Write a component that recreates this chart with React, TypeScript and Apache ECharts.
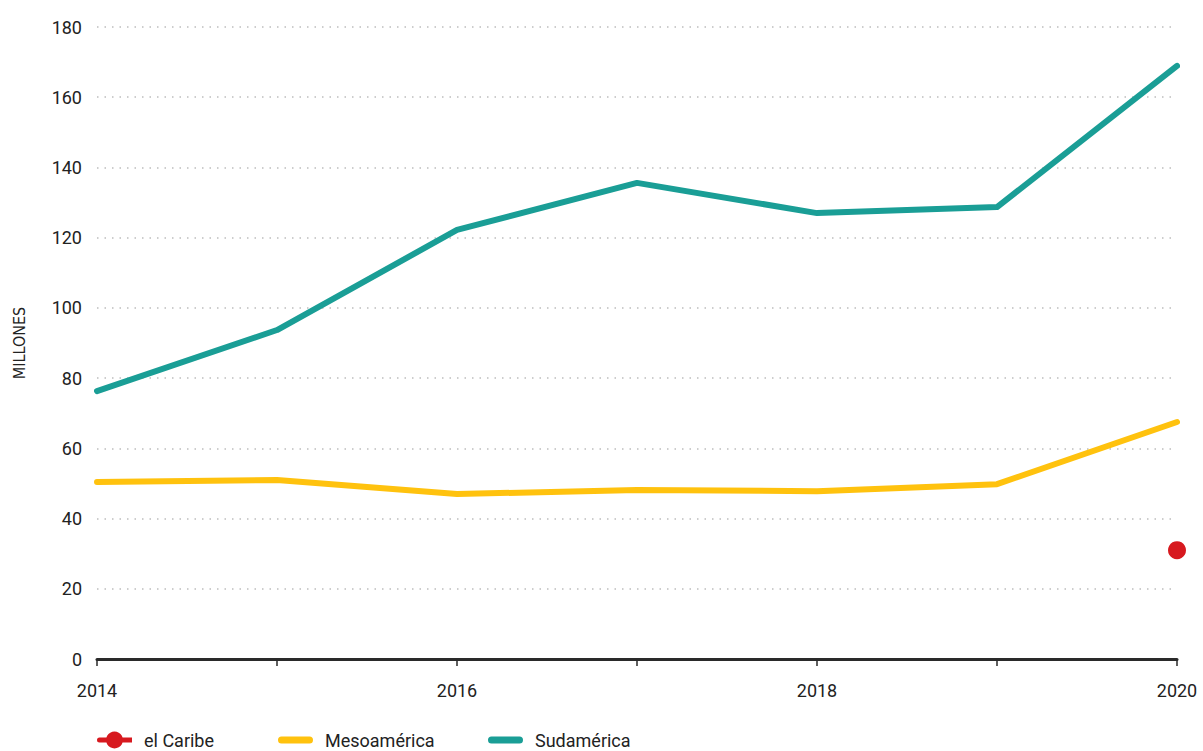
import React, { useEffect, useRef } from "react";
import * as echarts from "echarts";

const years = ["2014", "2015", "2016", "2017", "2018", "2019", "2020"];
const caribe = [null, null, null, null, null, null, 31.0];
const mesoamerica = [50.4, 51.0, 47.0, 48.1, 47.8, 49.8, 67.5];
const sudamerica = [76.3, 93.7, 122.2, 135.6, 127.0, 128.7, 168.9];

const RED = "#d7191f";
const YELLOW = "#ffc20e";
const TEAL = "#1a9e96";
const FONT = "Roboto, 'Liberation Sans', sans-serif";

const LINE_ICON =
  "path://M3.5,5.5H31.5A3.5,3.5 0 0,1 31.5,12.5H3.5A3.5,3.5 0 0,1 3.5,5.5Z M17,0h0.01v0.01h-0.01Z M17,17.99h0.01v0.01h-0.01Z";
const DOT_ICON =
  "path://M2.5,6.5H35V11.5H2.5Z M17.5,0.5A8.5,8.5 0 1,1 17.49,0.5Z M0,9A2.5,2.5 0 0,1 2.5,6.5V11.5A2.5,2.5 0 0,1 0,9Z M17,0h0.01v0.01h-0.01Z M17,17.99h0.01v0.01h-0.01Z";

export default function App() {
  const ref = useRef<HTMLDivElement>(null);
  useEffect(() => {
    const chart = echarts.init(ref.current!, null, { renderer: "svg" });
    const textStyle = { fontFamily: FONT, fontSize: 18, lineHeight: 18, color: "#222", padding: [0, 0, 0, 7] };
    const legendBase = { top: 731, padding: 0, itemWidth: 35, itemHeight: 18, textStyle };
    chart.setOption({
      animation: false,
      backgroundColor: "#fff",
      grid: { left: 97, right: 26, top: 27, bottom: 92 },
      legend: [
        { ...legendBase, left: 97, data: [{ name: "el Caribe", icon: DOT_ICON }] },
        { ...legendBase, left: 278, data: [{ name: "Mesoamérica", icon: LINE_ICON }] },
        { ...legendBase, left: 488, data: [{ name: "Sudamérica", icon: LINE_ICON }] },
      ],
      xAxis: {
        type: "category",
        data: years,
        boundaryGap: false,
        axisLine: { lineStyle: { color: "#2a2a2a", width: 3 } },
        axisTick: { show: true, interval: 0, length: 7, lineStyle: { color: "#2a2a2a", width: 1.5 } },
        axisLabel: { interval: 1, margin: 22, fontFamily: FONT, fontSize: 18, color: "#222" },
        splitLine: { show: false },
      },
      yAxis: {
        type: "value",
        min: 0,
        max: 180,
        interval: 20,
        name: "MILLONES",
        nameLocation: "middle",
        nameGap: 70,
        nameRotate: 90,
        nameTextStyle: { fontFamily: "'Liberation Sans Narrow', 'DejaVu Sans Condensed', sans-serif", fontSize: 16, color: "#222" },
        axisLine: { show: false },
        axisTick: { show: false },
        axisLabel: { margin: 15, fontFamily: FONT, fontSize: 18, color: "#222" },
        splitLine: { lineStyle: { color: "#bdbdbd", width: 1.5, type: [1.5, 6] } },
      },
      series: [
        {
          name: "el Caribe",
          type: "line",
          data: caribe,
          color: RED,
          symbol: "circle",
          symbolSize: 18,
          showSymbol: true,
          lineStyle: { width: 6, color: RED },
          itemStyle: { color: RED },
        },
        {
          name: "Mesoamérica",
          type: "line",
          data: mesoamerica,
          color: YELLOW,
          symbol: "none",
          lineStyle: { width: 6, color: YELLOW, cap: "round", join: "round" },
        },
        {
          name: "Sudamérica",
          type: "line",
          data: sudamerica,
          color: TEAL,
          symbol: "none",
          lineStyle: { width: 6, color: TEAL, cap: "round", join: "round" },
        },
      ],
    });
    return () => chart.dispose();
  }, []);
  return <div ref={ref} style={{ position: "absolute", left: 0, top: 0, width: 1203, height: 751 }} />;
}
